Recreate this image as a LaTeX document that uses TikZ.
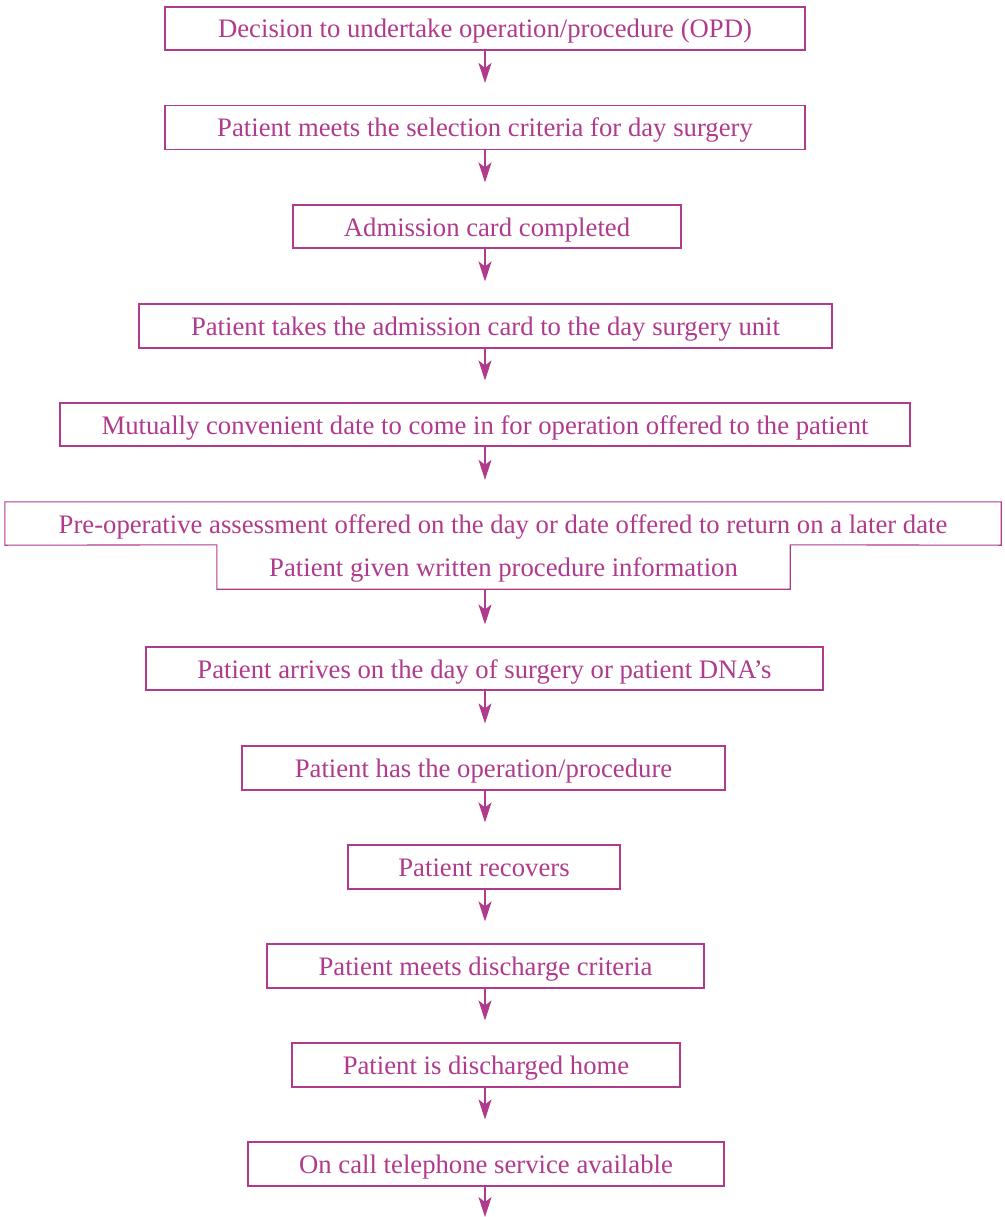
\documentclass[tikz,border=0pt]{standalone}
\usepackage{fontspec}
\setmainfont{Liberation Serif}
\usetikzlibrary{arrows.meta}
\definecolor{mag}{RGB}{176,58,140}
\begin{document}
\begin{tikzpicture}[x=1pt,y=-1pt,
  txt/.style={text=mag,font=\fontsize{26.7}{30}\selectfont,inner sep=0pt,anchor=center,text height=20pt,text depth=1pt},
  box/.style={txt,draw=mag,line width=1.1pt},
  arr/.style={draw=mag,line width=1.1pt,-{Stealth[length=20pt,width=13pt,inset=5pt]},shorten >=22pt}]
\useasboundingbox (0,0) rectangle (1004,1217);
\node[box,minimum width=640pt,minimum height=43pt] (b1) at (485,28.5) {Decision to undertake operation/procedure (OPD)};
\node[box,minimum width=640pt,minimum height=44pt] (b2) at (485,127.5) {Patient meets the selection criteria for day surgery};
\node[box,minimum width=388pt,minimum height=43pt] (b3) at (487,226.5) {Admission card completed};
\node[box,minimum width=693pt,minimum height=44pt] (b4) at (485.5,326) {Patient takes the admission card to the day surgery unit};
\node[box,minimum width=850pt,minimum height=43pt] (b5) at (485,424.5) {Mutually convenient date to come in for operation offered to the patient};
\node[txt,minimum width=996pt,minimum height=43pt] (b6a) at (503,523.5) {Pre-operative assessment offered on the day or date offered to return on a later date};
\node[txt,minimum width=573pt,minimum height=44pt] (b6b) at (503.5,567) {Patient given written procedure information};
\draw[mag,line width=1.1pt] (b6a.north west) -- (b6a.north east) -- (b6a.south east) -- (b6b.north east) -- (b6b.south east) -- (b6b.south west) -- (b6b.north west) -- (b6a.south west) -- cycle;
\node[box,minimum width=677pt,minimum height=43pt] (b7) at (484.5,668.5) {Patient arrives on the day of surgery or patient DNA’s};
\node[box,minimum width=483pt,minimum height=44pt] (b8) at (483.5,768) {Patient has the operation/procedure};
\node[box,minimum width=272pt,minimum height=44pt] (b9) at (484,867) {Patient recovers};
\node[box,minimum width=437pt,minimum height=44pt] (b10) at (485.5,966) {Patient meets discharge criteria};
\node[box,minimum width=388pt,minimum height=44pt] (b11) at (486,1065) {Patient is discharged home};
\node[box,minimum width=476pt,minimum height=44pt] (b12) at (486,1164) {On call telephone service available};
\coordinate (end) at (485,1239);
\draw[arr] (b1.south -| end) -- (b2.north -| end);
\draw[arr] (b2.south -| end) -- (b3.north -| end);
\draw[arr] (b3.south -| end) -- (b4.north -| end);
\draw[arr] (b4.south -| end) -- (b5.north -| end);
\draw[arr] (b5.south -| end) -- (b6a.north -| end);
\draw[arr] (b6b.south -| end) -- (b7.north -| end);
\draw[arr] (b7.south -| end) -- (b8.north -| end);
\draw[arr] (b8.south -| end) -- (b9.north -| end);
\draw[arr] (b9.south -| end) -- (b10.north -| end);
\draw[arr] (b10.south -| end) -- (b11.north -| end);
\draw[arr] (b11.south -| end) -- (b12.north -| end);
\draw[arr] (b12.south -| end) -- (end);
\end{tikzpicture}
\end{document}
